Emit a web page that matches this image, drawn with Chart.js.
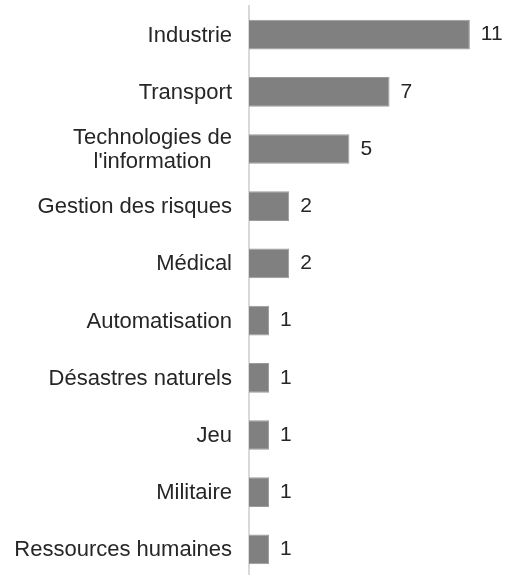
<!DOCTYPE html>
<html>
<head>
<meta charset="utf-8">
<script src="https://cdn.jsdelivr.net/npm/chart.js@4"></script>
<style>
  body { margin: 0; background: #fff; overflow: hidden; }
</style>
</head>
<body>
<canvas id="graphique" width="510" height="578"></canvas>
<script>
// données
const categories = [
  "Industrie",
  "Transport",
  ["Technologies de", "l'information"],
  "Gestion des risques",
  "Médical",
  "Automatisation",
  "Désastres naturels",
  "Jeu",
  "Militaire",
  "Ressources humaines"
];
const valeurs = [11, 7, 5, 2, 2, 1, 1, 1, 1, 1];

const police = "'Liberation Sans', Arial, sans-serif";

// étiquettes des catégories (lignes centrées entre elles) et valeurs au bout des barres
const etiquettes = {
  id: "etiquettes",
  afterDatasetsDraw(chart) {
    const ctx = chart.ctx;
    const meta = chart.getDatasetMeta(0);
    const axeY = chart.scales.y;
    ctx.save();
    ctx.fillStyle = "#262626";
    ctx.textBaseline = "middle";

    // catégories
    ctx.font = "22px " + police;
    ctx.textAlign = "center";
    const droite = axeY.right - 17;
    const interligne = 24;
    categories.forEach((cat, i) => {
      const lignes = Array.isArray(cat) ? cat : [cat];
      let largeur = 0;
      lignes.forEach((l) => { largeur = Math.max(largeur, ctx.measureText(l).width); });
      const yCentre = axeY.getPixelForValue(i) + 1;
      const y0 = yCentre - ((lignes.length - 1) * interligne) / 2;
      lignes.forEach((l, j) => {
        ctx.fillText(l, droite - largeur / 2, y0 + j * interligne);
      });
    });

    // valeurs
    ctx.font = "21px " + police;
    ctx.textAlign = "left";
    meta.data.forEach((barre, i) => {
      ctx.fillText(String(valeurs[i]), barre.x + 11, barre.y);
    });
    ctx.restore();
  }
};

const configuration = {
  type: "bar",
  data: {
    labels: categories,
    datasets: [
      {
        data: valeurs,
        backgroundColor: "#808080",
        borderColor: "#9a9a9a",
        borderWidth: 1,
        barPercentage: 0.52,
        categoryPercentage: 1
      }
    ]
  },
  options: {
    indexAxis: "y",
    responsive: false,
    animation: false,
    layout: { padding: { top: 6, right: 0, bottom: 0, left: 0 } },
    plugins: {
      legend: { display: false },
      tooltip: { enabled: false }
    },
    scales: {
      x: {
        display: false,
        min: 0,
        max: 13
      },
      y: {
        afterFit(axe) {
          axe.width = 249;
          axe.paddingTop = 0;
          axe.paddingBottom = 0;
        },
        grid: { display: false, drawTicks: false },
        border: { display: true, color: "#d9d9d9", width: 2 },
        ticks: { display: false }
      }
    }
  },
  plugins: [etiquettes]
};

const chart = new Chart(document.getElementById("graphique"), configuration);
</script>
</body>
</html>
